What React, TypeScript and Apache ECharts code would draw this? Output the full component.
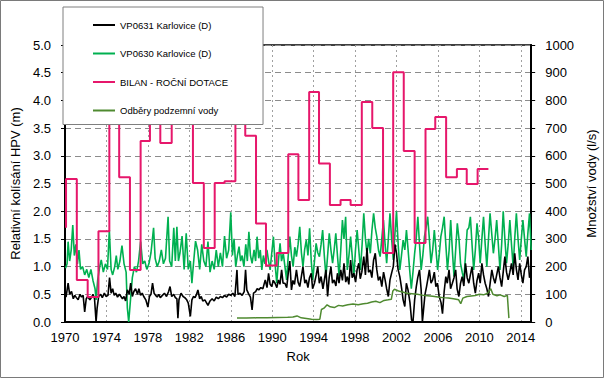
import React, { useEffect, useRef } from 'react';
import * as echarts from 'echarts';

const FONT = '"Liberation Sans", Arial, sans-serif';

const xMin = 1970;
const xMax = 2015;
const xStep = 4;
const leftMax = 5;
const leftStep = 0.5;
const rightMax = 1000;
const rightStep = 100;

const seriesNames = [
  'VP0631 Karlovice (D)',
  'VP0630 Karlovice (D)',
  'BILAN - ROČNÍ DOTACE',
  'Odběry podzemní vody',
];

// VP0631 Karlovice (D) – relative groundwater level fluctuation (m)
const vp0631: [number, number][] = [
  [1970.1,0.45],[1970.3,0.7],[1970.45,0.5],[1970.63,0.55],[1970.8,0.42],[1970.95,0.48],[1971.1,0.44],[1971.27,0.4],[1971.45,0.5],[1971.6,0.45],[1971.75,0.48],[1971.9,0.18],[1972.05,0.42],[1972.2,0.46],[1972.4,0.4],[1972.55,0.44],[1972.7,0.5],[1972.85,0.42],[1973.0,0.0],[1973.1,0.25],[1973.25,0.46],[1973.45,0.5],[1973.6,0.44],[1973.8,0.52],[1973.96,0.46],[1974.15,0.48],[1974.3,0.8],[1974.45,0.52],[1974.6,0.6],[1974.75,0.48],[1974.9,0.52],[1975.07,0.45],[1975.25,0.5],[1975.4,0.46],[1975.55,0.42],[1975.7,0.46],[1975.85,0.38],[1976.02,0.58],[1976.2,0.5],[1976.34,0.7],[1976.5,0.46],[1976.65,0.55],[1976.81,0.6],[1977.0,0.5],[1977.13,0.6],[1977.3,0.48],[1977.45,0.52],[1977.6,0.46],[1977.8,0.4],[1978.0,0.27],[1978.15,0.46],[1978.3,0.5],[1978.45,0.7],[1978.6,0.52],[1978.75,0.48],[1978.9,0.45],[1979.05,0.5],[1979.2,0.44],[1979.4,0.48],[1979.6,0.52],[1979.8,0.46],[1980.0,0.55],[1980.14,0.64],[1980.3,0.46],[1980.5,0.5],[1980.65,0.44],[1980.8,0.42],[1980.9,0.07],[1981.0,0.4],[1981.2,0.52],[1981.4,0.46],[1981.56,0.44],[1981.75,0.4],[1981.9,0.34],[1982.1,0.1],[1982.25,0.4],[1982.4,0.46],[1982.55,0.44],[1982.7,0.5],[1982.83,0.58],[1983.0,0.42],[1983.15,0.46],[1983.3,0.38],[1983.5,0.4],[1983.65,0.35],[1983.8,0.3],[1984.0,0.38],[1984.2,0.42],[1984.4,0.38],[1984.6,0.45],[1984.8,0.42],[1985.0,0.46],[1985.2,0.44],[1985.4,0.48],[1985.6,0.45],[1985.8,0.5],[1986.0,0.48],[1986.2,0.52],[1986.4,0.46],[1986.6,0.94],[1986.7,0.5],[1986.9,0.52],[1987.1,0.48],[1987.3,0.55],[1987.43,0.94],[1987.55,0.58],[1987.75,0.5],[1987.9,0.45],[1988.06,0.22],[1988.2,0.52],[1988.4,0.55],[1988.55,0.6],[1988.7,0.58],[1988.9,0.62],[1989.1,0.6],[1989.33,0.76],[1989.5,0.62],[1989.65,0.88],[1989.8,0.68],[1989.96,0.64],[1990.1,0.75],[1990.28,0.7],[1990.45,0.62],[1990.6,0.76],[1990.75,0.68],[1990.91,0.94],[1991.05,0.7],[1991.23,0.7],[1991.4,0.62],[1991.55,0.88],[1991.7,1.1],[1991.86,0.58],[1992.0,0.75],[1992.15,0.68],[1992.34,0.94],[1992.5,0.72],[1992.66,0.64],[1992.8,0.8],[1992.97,1.0],[1993.15,0.7],[1993.29,0.76],[1993.45,0.62],[1993.6,0.8],[1993.77,0.88],[1993.9,0.6],[1994.08,0.7],[1994.25,0.85],[1994.4,1.0],[1994.55,0.7],[1994.72,0.82],[1994.9,0.6],[1995.05,0.78],[1995.19,0.94],[1995.35,0.46],[1995.5,0.8],[1995.67,1.0],[1995.82,0.7],[1995.98,0.76],[1996.15,0.65],[1996.3,0.88],[1996.45,0.7],[1996.62,0.94],[1996.78,0.75],[1996.93,1.06],[1997.1,0.72],[1997.25,0.82],[1997.4,0.68],[1997.57,1.12],[1997.72,0.8],[1997.88,0.88],[1998.05,0.72],[1998.2,0.95],[1998.36,1.06],[1998.5,0.78],[1998.65,0.9],[1998.84,1.18],[1999.0,0.85],[1999.15,1.34],[1999.3,0.9],[1999.47,0.94],[1999.62,0.8],[1999.79,1.12],[1999.95,1.24],[2000.1,0.94],[2000.25,0.75],[2000.42,0.82],[2000.58,0.64],[2000.75,0.9],[2000.9,0.76],[2001.05,0.6],[2001.21,0.46],[2001.37,0.76],[2001.55,0.9],[2001.69,1.0],[2001.85,1.4],[2002.0,1.24],[2002.15,0.95],[2002.32,0.82],[2002.5,0.6],[2002.64,0.4],[2002.8,0.28],[2002.95,0.7],[2003.11,0.58],[2003.3,0.35],[2003.45,0.04],[2003.59,0.0],[2003.75,0.4],[2003.91,0.64],[2004.05,0.8],[2004.22,0.94],[2004.38,0.58],[2004.5,0.0],[2004.6,0.2],[2004.75,0.5],[2004.9,0.64],[2005.05,0.8],[2005.17,0.94],[2005.33,0.7],[2005.49,0.76],[2005.65,0.9],[2005.8,0.64],[2005.95,0.7],[2006.12,0.46],[2006.3,0.35],[2006.44,0.15],[2006.6,0.55],[2006.76,0.82],[2006.9,0.7],[2007.07,0.94],[2007.22,0.6],[2007.39,0.7],[2007.55,0.8],[2007.71,0.94],[2007.85,0.6],[2008.02,0.46],[2008.18,0.7],[2008.34,0.82],[2008.5,0.65],[2008.66,1.06],[2008.82,0.8],[2008.98,0.7],[2009.13,0.85],[2009.29,1.0],[2009.45,0.7],[2009.61,0.52],[2009.77,0.75],[2009.93,0.88],[2010.08,0.7],[2010.24,1.06],[2010.4,0.85],[2010.56,0.7],[2010.72,0.6],[2010.88,0.46],[2011.04,0.7],[2011.2,0.94],[2011.35,0.8],[2011.51,0.7],[2011.67,0.85],[2011.83,1.0],[2011.99,0.8],[2012.15,0.64],[2012.3,0.9],[2012.46,1.18],[2012.62,0.9],[2012.78,0.76],[2012.94,0.9],[2013.1,1.06],[2013.26,0.85],[2013.41,1.24],[2013.57,0.95],[2013.73,0.76],[2013.89,1.06],[2014.05,0.85],[2014.2,0.7],[2014.36,0.94],[2014.52,1.0],[2014.68,1.18],[2014.84,0.8],[2015.0,0.88],
];

// VP0630 Karlovice (D) – relative groundwater level fluctuation (m)
const vp0630: [number, number][] = [
  [1970.05,0.97],[1970.2,1.05],[1970.3,1.45],[1970.45,1.1],[1970.6,1.3],[1970.75,1.75],[1970.9,1.2],[1971.05,1.4],[1971.2,1.05],[1971.35,1.3],[1971.5,0.95],[1971.7,1.0],[1971.9,0.85],[1972.1,0.95],[1972.3,0.8],[1972.5,0.95],[1972.7,0.75],[1972.9,0.6],[1973.0,0.4],[1973.15,0.75],[1973.35,1.0],[1973.5,1.12],[1973.7,0.9],[1973.9,1.05],[1974.1,0.95],[1974.28,1.66],[1974.45,0.95],[1974.6,0.85],[1974.8,1.0],[1974.95,1.2],[1975.1,0.95],[1975.3,1.1],[1975.5,1.38],[1975.7,1.05],[1975.9,0.9],[1976.02,0.25],[1976.15,0.0],[1976.3,0.35],[1976.5,0.8],[1976.7,1.0],[1976.9,0.9],[1977.1,1.1],[1977.3,1.45],[1977.5,1.05],[1977.7,1.1],[1977.9,0.95],[1978.1,1.05],[1978.3,1.25],[1978.55,1.7],[1978.7,1.15],[1978.9,1.0],[1979.1,1.1],[1979.3,1.3],[1979.5,1.05],[1979.7,1.15],[1979.95,1.9],[1980.1,1.1],[1980.3,1.0],[1980.5,1.7],[1980.65,1.1],[1980.8,1.72],[1980.95,1.1],[1981.1,1.25],[1981.3,1.55],[1981.5,0.95],[1981.7,1.6],[1981.9,0.95],[1982.1,1.1],[1982.25,0.7],[1982.4,1.05],[1982.6,1.46],[1982.8,1.3],[1983.0,0.95],[1983.2,1.4],[1983.4,1.1],[1983.6,1.0],[1983.8,1.45],[1984.0,0.9],[1984.2,1.1],[1984.4,0.95],[1984.6,1.3],[1984.8,1.0],[1985.0,1.25],[1985.2,1.0],[1985.4,1.55],[1985.6,1.15],[1985.8,1.3],[1986.0,1.98],[1986.16,1.2],[1986.32,1.5],[1986.48,1.0],[1986.64,1.2],[1986.8,1.36],[1986.95,1.1],[1987.1,1.2],[1987.27,1.0],[1987.45,1.4],[1987.6,1.1],[1987.75,1.63],[1987.9,1.2],[1988.06,1.06],[1988.25,1.3],[1988.4,1.1],[1988.54,1.54],[1988.7,1.15],[1988.85,1.3],[1989.0,0.94],[1989.15,1.2],[1989.3,1.05],[1989.49,1.3],[1989.65,1.1],[1989.8,0.94],[1989.96,1.25],[1990.12,1.54],[1990.28,1.05],[1990.44,0.7],[1990.6,1.1],[1990.76,1.42],[1990.9,1.1],[1991.07,1.24],[1991.23,1.0],[1991.39,0.76],[1991.55,1.2],[1991.7,1.54],[1991.86,1.2],[1992.02,1.0],[1992.18,1.35],[1992.34,1.18],[1992.5,1.4],[1992.66,1.72],[1992.82,1.25],[1992.97,1.0],[1993.13,1.3],[1993.29,1.48],[1993.45,1.2],[1993.61,1.69],[1993.77,1.1],[1993.92,0.76],[1994.08,1.1],[1994.24,1.42],[1994.4,1.25],[1994.56,1.18],[1994.72,1.4],[1994.87,1.66],[1995.03,1.2],[1995.19,0.82],[1995.35,1.2],[1995.51,1.6],[1995.67,1.3],[1995.83,1.06],[1995.98,1.3],[1996.14,1.6],[1996.3,1.2],[1996.46,0.82],[1996.62,1.3],[1996.78,1.84],[1996.93,1.5],[1997.09,1.9],[1997.25,0.94],[1997.41,1.2],[1997.57,1.54],[1997.72,1.2],[1997.88,0.82],[1998.04,1.3],[1998.2,1.66],[1998.36,1.3],[1998.52,0.94],[1998.68,1.4],[1998.84,1.96],[1999.0,1.5],[1999.15,1.24],[1999.31,1.5],[1999.47,1.24],[1999.63,1.66],[1999.79,1.96],[1999.95,1.7],[2000.1,1.54],[2000.26,1.3],[2000.42,1.18],[2000.58,1.5],[2000.74,1.84],[2000.9,1.4],[2001.05,1.06],[2001.21,1.5],[2001.37,1.96],[2001.53,1.5],[2001.69,1.12],[2001.85,1.6],[2002.0,2.0],[2002.16,1.4],[2002.32,0.94],[2002.48,1.2],[2002.64,1.48],[2002.8,1.3],[2002.96,1.66],[2003.12,1.3],[2003.27,0.94],[2003.43,0.6],[2003.59,0.9],[2003.75,1.24],[2003.9,1.5],[2004.06,1.9],[2004.22,1.4],[2004.38,0.94],[2004.54,1.2],[2004.7,1.54],[2004.85,1.7],[2005.01,1.9],[2005.17,1.5],[2005.33,1.06],[2005.49,1.3],[2005.65,1.66],[2005.81,1.3],[2005.97,0.94],[2006.12,1.2],[2006.28,1.54],[2006.44,1.7],[2006.6,1.9],[2006.76,1.4],[2006.92,0.94],[2007.08,1.3],[2007.23,1.84],[2007.39,1.3],[2007.55,0.82],[2007.71,1.3],[2007.87,1.78],[2008.03,1.5],[2008.18,1.06],[2008.34,0.9],[2008.5,0.76],[2008.66,1.2],[2008.82,1.66],[2008.98,1.7],[2009.13,1.9],[2009.29,1.4],[2009.45,0.94],[2009.61,1.3],[2009.77,1.78],[2009.93,1.5],[2010.08,1.06],[2010.24,1.5],[2010.4,1.9],[2010.56,1.4],[2010.72,1.0],[2010.88,1.5],[2011.03,1.96],[2011.19,1.6],[2011.35,1.24],[2011.51,1.5],[2011.67,1.84],[2011.83,1.4],[2011.99,0.94],[2012.15,1.4],[2012.3,2.0],[2012.46,1.5],[2012.62,1.06],[2012.78,1.4],[2012.94,1.84],[2013.1,1.4],[2013.26,1.0],[2013.41,1.5],[2013.57,1.96],[2013.73,1.5],[2013.89,1.12],[2014.05,1.5],[2014.2,1.84],[2014.36,1.5],[2014.52,1.18],[2014.68,1.6],[2014.84,1.96],[2015.0,1.3],
];

// BILAN – annual recharge (l/s), one value per step starting at the given year
const bilanStartValue = 340;
const bilanYears = [
  1970.1, 1971.14, 1972.19, 1973.23, 1974.28, 1975.23, 1976.27, 1977.3, 1978.2, 1979.2,
  1980.3, 1981.3, 1982.35, 1983.4, 1984.45, 1985.4, 1986.45, 1987.4, 1988.44, 1989.4,
  1990.44, 1991.55, 1992.53, 1993.57, 1994.52, 1995.57, 1996.6, 1997.57, 1998.65, 1999.66,
  2000.7, 2001.68, 2002.7, 2003.75, 2004.8, 2005.74, 2006.79, 2007.83, 2008.78, 2009.83,
];
const bilanEndYear = 2010.87;
const bilanValues = [
  516, 152, 90, 328, 860, 523, 188, 653, 760, 646,
  780, 740, 502, 267, 502, 508, 800, 672, 356, 204,
  249, 606, 440, 830, 572, 422, 440, 422, 794, 700,
  249, 902, 617, 285, 697, 740, 523, 552, 498, 552,
];

// Odběry podzemní vody – groundwater withdrawals (l/s)
const odbery: [number, number][] = [
  [1986.6,14],[1987.5,14],[1988.5,15],[1989.5,15],[1990.5,16],[1991.5,17],[1992.0,18],[1992.4,22],[1992.8,15],[1993.3,13],[1993.8,10],[1994.3,9],[1994.6,10],[1994.75,45],[1995.0,50],[1995.3,62],[1995.6,55],[1996.0,52],[1996.4,60],[1996.8,58],[1997.3,62],[1997.8,65],[1998.3,62],[1998.8,66],[1999.2,68],[1999.6,72],[2000.0,75],[2000.4,70],[2000.8,78],[2001.2,80],[2001.5,82],[2001.65,112],[2001.8,118],[2002.2,112],[2002.6,108],[2003.0,104],[2003.5,102],[2004.0,100],[2004.5,97],[2005.0,95],[2005.5,93],[2006.0,90],[2006.5,88],[2007.0,87],[2007.5,84],[2008.0,80],[2008.2,66],[2008.4,86],[2008.8,92],[2009.2,94],[2009.6,96],[2010.0,100],[2010.4,98],[2010.8,104],[2011.1,120],[2011.3,100],[2011.7,95],[2012.0,98],[2012.4,92],[2012.7,96],[2012.85,14],
];

const bilanData: [number, number][] = [
  [bilanYears[0], bilanStartValue],
  ...bilanYears.map((y, i) => [y, bilanValues[i]] as [number, number]),
  [bilanEndYear, bilanValues[bilanValues.length - 1]],
];

const labelStyle = { color: '#000', fontSize: 13, fontFamily: FONT };

export default function App() {
  const ref = useRef<HTMLDivElement>(null);
  useEffect(() => {
    document.body.style.margin = '0';
    const chart = echarts.init(ref.current!, null, { renderer: 'svg' });
    chart.setOption({
      animation: false,
      backgroundColor: '#fff',
      textStyle: { fontFamily: FONT },
      grid: {
        left: 65, right: 68, top: 45, bottom: 58,
        show: true, borderColor: '#000', borderWidth: 1.5, backgroundColor: 'transparent',
      },
      legend: {
        data: seriesNames,
        orient: 'vertical',
        left: 63,
        top: 7,
        padding: [11, 35, 7, 30],
        icon: 'rect',
        itemWidth: 22,
        itemHeight: 2,
        itemGap: 14.5,
        backgroundColor: '#fff',
        borderColor: '#7f7f7f',
        borderWidth: 1,
        textStyle: { color: '#000', fontSize: 9.5, lineHeight: 14, fontFamily: FONT },
      },
      xAxis: {
        type: 'value',
        min: xMin,
        max: xMax,
        interval: xStep,
        name: 'Rok',
        nameLocation: 'middle',
        nameGap: 28,
        nameTextStyle: { ...labelStyle },
        axisLine: { show: true, onZero: false, lineStyle: { color: '#000', width: 2 } },
        axisTick: { show: false },
        axisLabel: { ...labelStyle, margin: 9, showMaxLabel: false, formatter: (v: number) => String(v) },
        splitLine: { show: true, lineStyle: { color: '#a0a0a0', type: [2, 3], width: 1 } },
      },
      yAxis: [
        {
          type: 'value',
          min: 0,
          max: leftMax,
          interval: leftStep,
          position: 'left',
          name: 'Relativní kolísání HPV (m)',
          nameLocation: 'middle',
          nameGap: 42,
          nameRotate: 90,
          nameTextStyle: { ...labelStyle },
          axisLine: { show: true, lineStyle: { color: '#000', width: 2 } },
          axisTick: { show: true, length: 4, lineStyle: { color: '#000' } },
          axisLabel: { ...labelStyle, margin: 14, formatter: (v: number) => v.toFixed(1) },
          splitLine: { show: true, lineStyle: { color: '#8c8c8c', type: [6, 4], width: 1 } },
        },
        {
          type: 'value',
          min: 0,
          max: rightMax,
          interval: rightStep,
          position: 'right',
          name: 'Množství vody (l/s)',
          nameLocation: 'middle',
          nameGap: 51,
          nameRotate: 90,
          nameTextStyle: { ...labelStyle },
          axisLine: { show: true, lineStyle: { color: '#000', width: 2 } },
          axisTick: { show: true, length: 4, lineStyle: { color: '#000' } },
          axisLabel: { ...labelStyle, margin: 14, formatter: (v: number) => String(v) },
          splitLine: { show: false },
        },
      ],
      series: [
        {
          name: seriesNames[1],
          type: 'line',
          yAxisIndex: 0,
          data: vp0630,
          symbol: 'none',
          lineStyle: { color: '#00b050', width: 1.6 },
          itemStyle: { color: '#00b050' },
        },
        {
          name: seriesNames[0],
          type: 'line',
          yAxisIndex: 0,
          data: vp0631,
          symbol: 'none',
          lineStyle: { color: '#000', width: 1.6 },
          itemStyle: { color: '#000' },
        },
        {
          name: seriesNames[2],
          type: 'line',
          yAxisIndex: 1,
          data: bilanData,
          step: 'end',
          symbol: 'none',
          lineStyle: { color: '#e6176b', width: 2 },
          itemStyle: { color: '#e6176b' },
        },
        {
          name: seriesNames[3],
          type: 'line',
          yAxisIndex: 1,
          data: odbery,
          symbol: 'none',
          lineStyle: { color: '#4f8a30', width: 1.5 },
          itemStyle: { color: '#4f8a30' },
        },
      ],
      graphic: [
        {
          type: 'rect',
          silent: true,
          z: 100,
          shape: { x: 0.5, y: 0.5, width: 603, height: 377 },
          style: { fill: 'none', stroke: '#7a7a7a', lineWidth: 1 },
        },
      ],
    });
    return () => chart.dispose();
  }, []);
  return <div ref={ref} style={{ width: 606, height: 380 }} />;
}
